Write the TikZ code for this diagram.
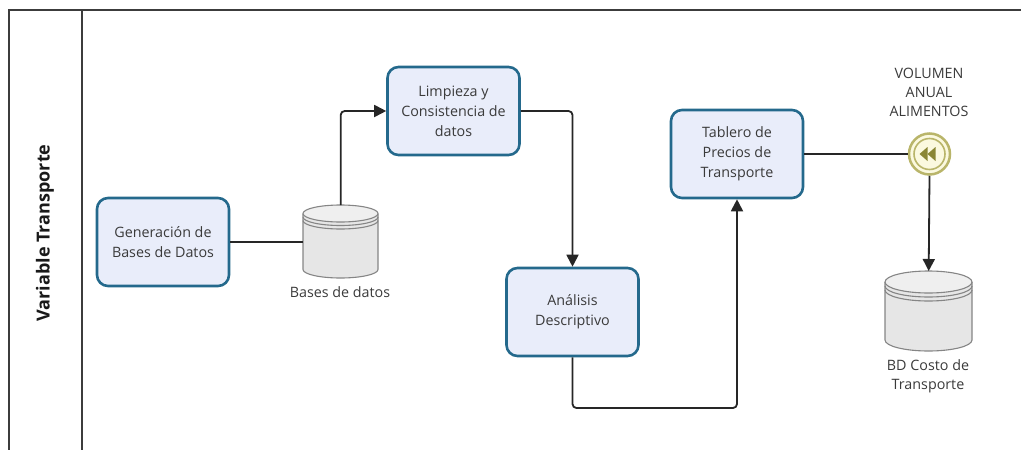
\documentclass[tikz,border=0pt]{standalone}
\usepackage{fontspec}
\setmainfont{Open Sans}
\usetikzlibrary{arrows.meta}
\definecolor{boxborder}{HTML}{24698C}
\definecolor{boxfill}{HTML}{E9EDFA}
\definecolor{txt}{HTML}{3A3A3A}
\definecolor{dbline}{HTML}{858585}
\definecolor{dbfill}{HTML}{E6E6E6}
\definecolor{dbtop}{HTML}{EFEFEF}
\definecolor{evring}{HTML}{B9B56A}
\definecolor{evfill}{HTML}{FBF9DF}
\definecolor{evicon}{HTML}{8A8634}
\definecolor{framecol}{HTML}{3C3C3C}
\newcommand\halfell[4]{(#1-#3,#2) .. controls (#1-#3,#2+0.5523*#4) and (#1-0.5523*#3,#2+#4) .. (#1,#2+#4) .. controls (#1+0.5523*#3,#2+#4) and (#1+#3,#2+0.5523*#4) .. (#1+#3,#2)}
% name, xc, ytop, rx, height, ry, ring gap
\newcommand\dbcyl[7]{%
  \pgfmathsetmacro\dbYt{#3+#6}%
  \pgfmathsetmacro\dbYbc{#3+#5-#6}%
  \pgfmathsetmacro\dbRa{#3+#6+#7}%
  \pgfmathsetmacro\dbRb{#3+#6+2*#7}%
  \path[fill=dbfill, draw=dbline, line width=1.1pt] (#2-#4,\dbYt) -- \halfell{#2}{\dbYbc}{#4}{#6} -- (#2+#4,\dbYt);
  \path[fill=dbtop, draw=dbline, line width=1.1pt] (#2,\dbYt) ellipse [x radius=#4, y radius=#6];
  \draw[dbline, line width=1.1pt] \halfell{#2}{\dbRa}{#4}{#6};
  \draw[dbline, line width=1.1pt] \halfell{#2}{\dbRb}{#4}{#6};
  \node[anchor=north west, minimum width=2*#4 pt, minimum height=#5 pt, inner sep=0pt] (#1) at (#2-#4,#3) {};
}
\tikzset{
  proc/.style={rectangle, rounded corners=11pt, draw=boxborder, line width=2.6pt, fill=boxfill,
    minimum width=132pt, minimum height=88pt, align=center, text=txt,
    font=\fontsize{14.3}{20}\selectfont},
  lbl/.style={align=center, text=txt, inner sep=0pt, font=\fontsize{14.3}{19}\selectfont},
  conn/.style={draw=black!85, line width=1.8pt, rounded corners=4pt},
  arr/.style={conn, -{Triangle[length=12pt,width=12pt]}},
  framel/.style={draw=framecol, line width=1.5pt}
}
\begin{document}
\begin{tikzpicture}[x=1pt,y=-1pt]
\useasboundingbox (0,0) rectangle (1021,450);
% frame
\draw[framel] (9,450) -- (9,10) -- (1021,10);
\draw[framel] (82,10) -- (82,450);
\node[rotate=90, font=\bfseries\fontsize{18}{20}\selectfont, text=black!90] (title) at (45,233) {Variable Transporte};
% processes
\node[proc] (gen) at (163,242) {Generación de\\Bases de Datos};
\node[proc] (limp) at (453.5,111) {Limpieza y\\Consistencia de\\datos};
\node[proc] (ana) at (572.5,312) {Análisis\\Descriptivo};
\node[proc] (tab) at (737,154) {Tablero de\\Precios de\\Transporte};
% databases
\dbcyl{db1}{340.5}{205}{37.5}{73}{8.5}{3.5}
\node[lbl] (db1l) at (340,292) {Bases de datos};
\dbcyl{db2}{928.5}{271}{43.5}{80}{11}{4}
\node[lbl] (db2l) at (928,376) {BD Costo de\\Transporte};
% event
\node[circle, draw=evring, fill=evfill, line width=2.5pt, minimum size=41pt, inner sep=0pt] (ev) at (929.5,154) {};
\draw[evring, line width=1.6pt] (ev.center) circle [radius=15.5];
\fill[evicon] (919.5,154) -- (927.5,147) -- (927.5,161) -- cycle;
\fill[evicon] (927.5,154) -- (935.5,147) -- (935.5,161) -- cycle;
\node[lbl] (evl) at (929,92) {VOLUMEN\\ANUAL\\ALIMENTOS};
% connectors
\draw[conn] (gen.east) -- (db1.west |- gen.east);
\draw[arr] (db1.north) |- (limp.west);
\draw[arr] (limp.east) -| (ana.north);
\coordinate (c1) at (572.5,408);
\draw[arr] (ana.south) -- (c1) -| (tab.south);
\draw[conn] (tab.east) -- (ev.west);
\draw[arr] (ev.south) -- (db2.north);
\end{tikzpicture}
\end{document}
